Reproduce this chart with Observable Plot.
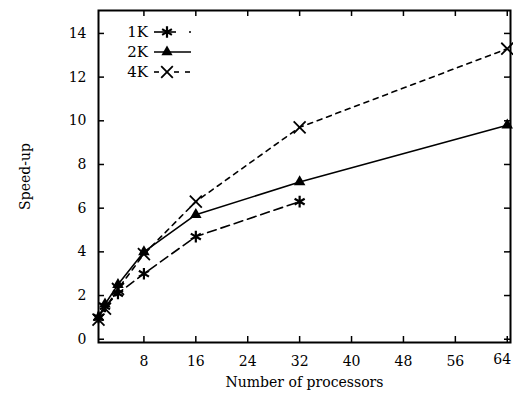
<!DOCTYPE html>
<html><head><meta charset="utf-8">
<script src="https://cdn.jsdelivr.net/npm/d3@7"></script>
<script src="https://cdn.jsdelivr.net/npm/@observablehq/plot@0.6"></script>
<style>body{margin:0;background:#fff}</style>
</head><body><div id="chart"></div>
<script>
const procs1K = [1, 2, 4, 8, 16, 32];
const speed1K = [1.0, 1.5, 2.1, 3.0, 4.7, 6.3];
const procs2K = [1, 2, 4, 8, 16, 32, 64];
const speed2K = [1.0, 1.6, 2.5, 4.0, 5.7, 7.2, 9.8];
const procs4K = [1, 2, 4, 8, 16, 32, 64];
const speed4K = [0.9, 1.4, 2.3, 3.9, 6.3, 9.7, 13.3];
const xTicks = [8, 16, 24, 32, 40, 48, 56, 64];
const yTicks = [0, 2, 4, 6, 8, 10, 12, 14];
const seriesNames = ["1K", "2K", "4K"];

const mk = (xs, ys, s) => xs.map((x, i) => ({x, y: ys[i], s}));
const d1 = mk(procs1K, speed1K, "1K");
const d2 = mk(procs2K, speed2K, "2K");
const d4 = mk(procs4K, speed4K, "4K");
const font = "'DejaVu Serif', 'Liberation Serif', serif";

const W = 513, H = 399, ML = 98, MR = 3, MT = 10, MB = 57;
const innerW = W - ML - MR, innerH = H - MT - MB, TL = 6;

const chart = Plot.plot({
  width: W, height: H,
  marginLeft: ML, marginRight: MR, marginTop: MT, marginBottom: MB,
  style: {fontFamily: font, fontSize: "14px", color: "#000", background: "#fff"},
  x: {domain: [1, 64.5]},
  y: {domain: [-0.15, 15.05]},
  marks: [
    Plot.frame({stroke: "#000", strokeWidth: 2}),
    // inward ticks
    Plot.tickX(xTicks, {x: d => d, stroke: "#000", strokeWidth: 1.5, insetTop: innerH - TL}),
    Plot.tickX(xTicks, {x: d => d, stroke: "#000", strokeWidth: 1.5, insetBottom: innerH - TL}),
    Plot.tickY(yTicks, {y: d => d, stroke: "#000", strokeWidth: 1.5, insetRight: innerW - TL}),
    Plot.tickY(yTicks, {y: d => d, stroke: "#000", strokeWidth: 1.5, insetLeft: innerW - TL}),
    Plot.axisX({ticks: xTicks.slice(0, -1), tickSize: 0, tickPadding: 14, fontSize: 14, label: "Number of processors", labelAnchor: "center", labelArrow: "none", labelOffset: 44}),
    Plot.axisX({ticks: xTicks.slice(-1), tickSize: 0, tickPadding: 12, dx: -5, fontSize: 14, label: null}),
    Plot.axisY({ticks: yTicks, tickSize: 0, tickPadding: 12, fontSize: 14, label: "Speed-up", labelAnchor: "center", labelArrow: "none", labelOffset: 78}),
    Plot.line(d1, {x: "x", y: "y", stroke: "#000", strokeWidth: 1.6, strokeDasharray: "9,5"}),
    Plot.line(d2, {x: "x", y: "y", stroke: "#000", strokeWidth: 1.6}),
    Plot.line(d4, {x: "x", y: "y", stroke: "#000", strokeWidth: 1.6, strokeDasharray: "5,5"}),
    Plot.dot(d1, {x: "x", y: "y", symbol: "asterisk", r: 5.5, stroke: "#000", strokeWidth: 2.2}),
    Plot.dot(d2, {x: "x", y: "y", symbol: "triangle2", r: 5.5, fill: "#000"}),
    Plot.dot(d4, {x: "x", y: "y", symbol: "times", r: 5.5, stroke: "#000", strokeWidth: 1.8})
  ]
});

// legend
const svg = d3.select(chart);
const leg = svg.append("g").attr("font-family", font).attr("font-size", 15);
seriesNames.forEach((name, i) => {
  const y = 32 + i * 20;
  leg.append("text").attr("x", 148).attr("y", y).attr("dy", "0.35em").attr("text-anchor", "end").text(name);
  const g = leg.append("g").attr("stroke", "#000").attr("stroke-width", 1.6);
  if (i === 0) {
    g.append("line").attr("x1", 154).attr("x2", 176).attr("y1", y).attr("y2", y);
    g.append("line").attr("x1", 189).attr("x2", 191).attr("y1", y).attr("y2", y);
    const sym = d3.symbol(d3.symbolAsterisk, 90)();
    g.append("path").attr("d", sym).attr("transform", `translate(167,${y})`).attr("fill", "none").attr("stroke-width", 2.2);
  } else if (i === 1) {
    g.append("line").attr("x1", 154).attr("x2", 191).attr("y1", y).attr("y2", y);
    const sym = d3.symbol(d3.symbolTriangle2, 90)();
    g.append("path").attr("d", sym).attr("transform", `translate(167,${y})`).attr("fill", "#000").attr("stroke", "none");
  } else {
    g.append("line").attr("x1", 154).attr("x2", 159).attr("y1", y).attr("y2", y);
    g.append("line").attr("x1", 174).attr("x2", 179).attr("y1", y).attr("y2", y);
    g.append("line").attr("x1", 185).attr("x2", 190).attr("y1", y).attr("y2", y);
    const sym = d3.symbol(d3.symbolTimes, 90)();
    g.append("path").attr("d", sym).attr("transform", `translate(167,${y})`).attr("fill", "none").attr("stroke-width", 1.8);
  }
});
document.getElementById("chart").appendChild(chart);
</script>
</body></html>
